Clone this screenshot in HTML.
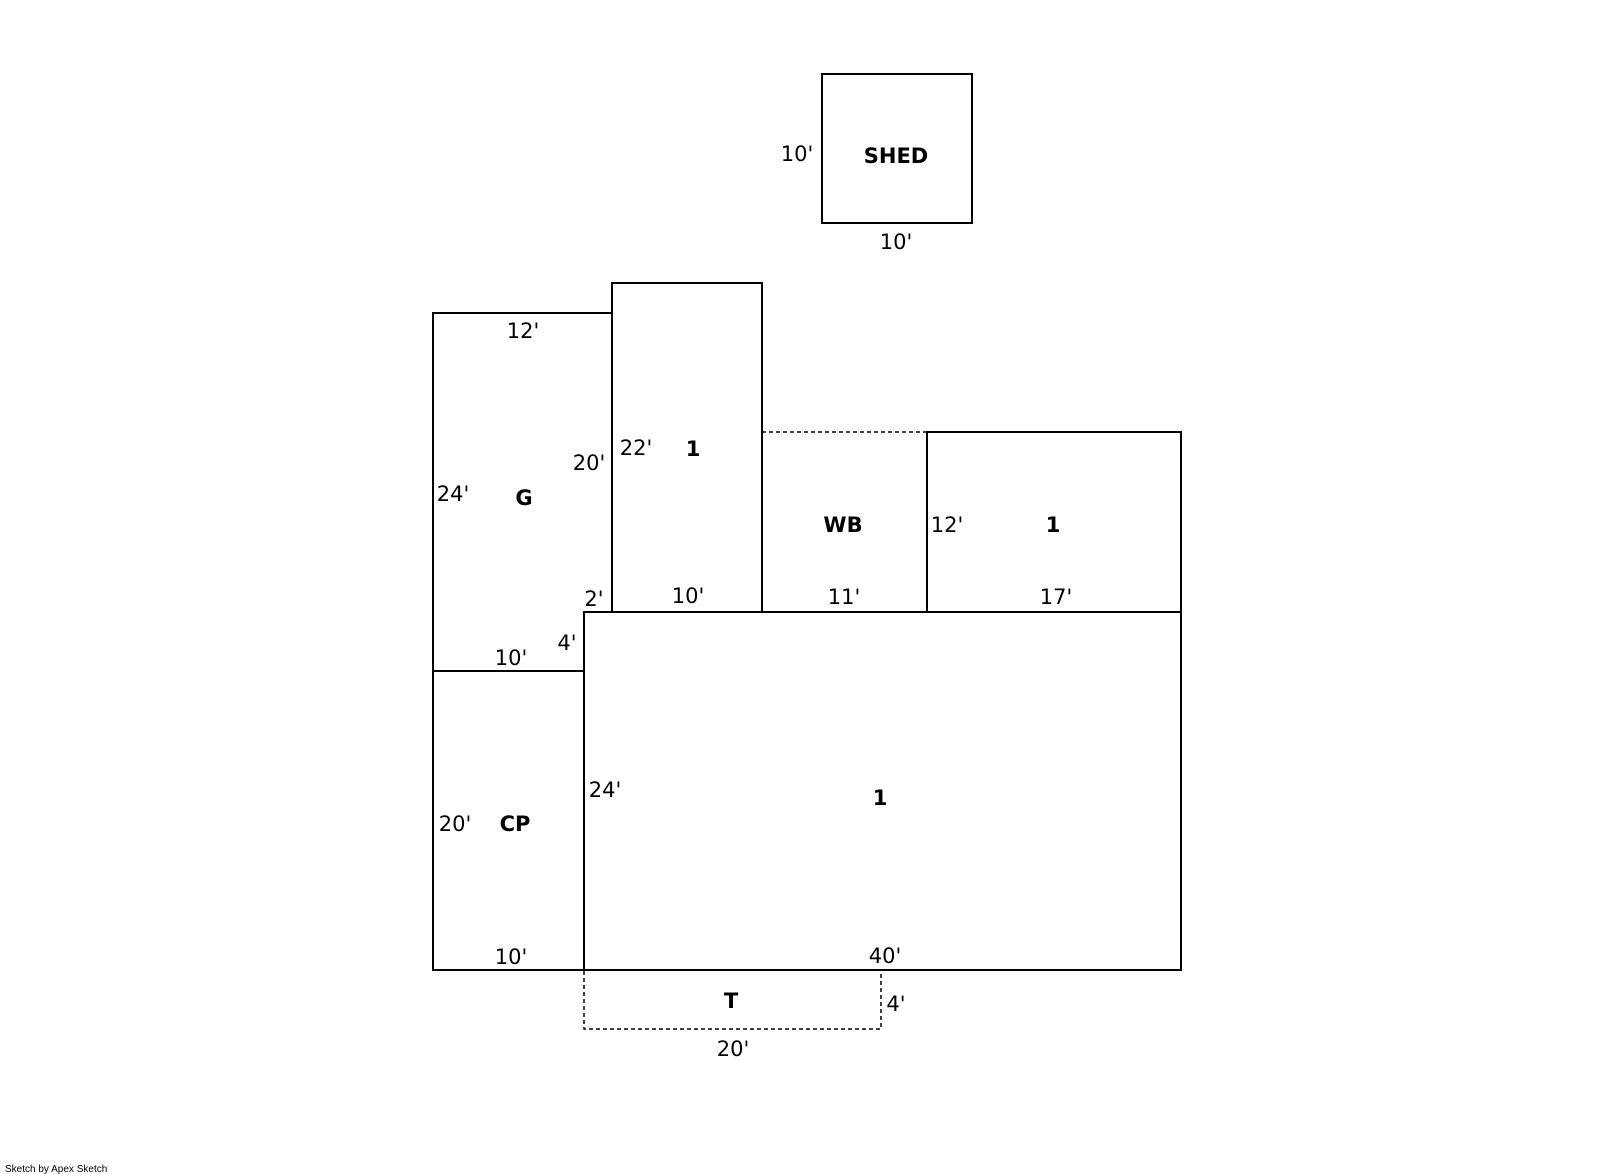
<!DOCTYPE html>
<html><head><style>body{margin:0;background:#fff}svg{display:block}</style></head><body>
<svg width="1601" height="1174" xmlns="http://www.w3.org/2000/svg" font-family="DejaVu Sans, Verdana, sans-serif">
<g fill="none" stroke="#000" stroke-width="2">
<rect x="822" y="74" width="150" height="149"/>
<path d="M433,313 H612 V612 H584 V671 H433 Z"/>
<rect x="612" y="283" width="150" height="329"/>
<rect x="927" y="432" width="254" height="180"/>
<line x1="762" y1="432" x2="762" y2="612"/>
<rect x="584" y="612" width="597" height="358"/>
<rect x="433" y="671" width="151" height="299"/>
</g>
<g fill="none" stroke="#000" stroke-width="1.5" stroke-dasharray="4,3">
<line x1="762" y1="432" x2="927" y2="432"/>
<polyline points="584,971 584,1029 881,1029 881,971"/>
</g>
<g font-size="21" text-anchor="middle" fill="#000">
<text x="797" y="161">10'</text>
<text x="896" y="249">10'</text>
<text x="523" y="338">12'</text>
<text x="453" y="501">24'</text>
<text x="589" y="470">20'</text>
<text x="636" y="455">22'</text>
<text x="594" y="606">2'</text>
<text x="688" y="603">10'</text>
<text x="567" y="650">4'</text>
<text x="511" y="665">10'</text>
<text x="947" y="532">12'</text>
<text x="844" y="604">11'</text>
<text x="1056" y="604">17'</text>
<text x="605" y="797">24'</text>
<text x="455" y="831">20'</text>
<text x="511" y="964">10'</text>
<text x="885" y="963">40'</text>
<text x="896" y="1011">4'</text>
<text x="733" y="1056">20'</text>
</g>
<g font-size="21" font-weight="bold" text-anchor="middle" fill="#000">
<text x="896" y="163">SHED</text>
<text x="524" y="505">G</text>
<text x="693" y="456">1</text>
<text x="843" y="532">WB</text>
<text x="1053" y="532">1</text>
<text x="880" y="805">1</text>
<text x="515" y="831">CP</text>
<text x="731" y="1008">T</text>
</g>
<text x="5" y="1172" font-size="10" fill="#000" font-family="Liberation Sans, sans-serif">Sketch by Apex Sketch</text>
</svg>
</body></html>
